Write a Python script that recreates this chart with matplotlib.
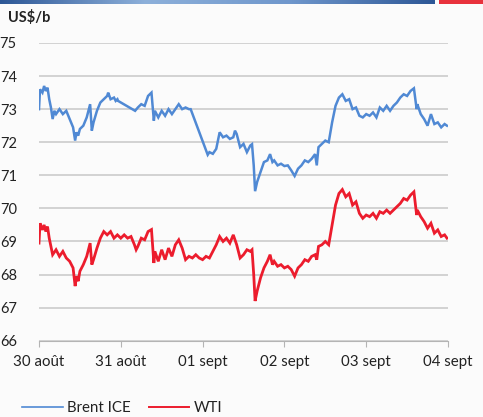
import matplotlib
matplotlib.use("Agg")
import matplotlib.pyplot as plt
import numpy as np
from matplotlib.patches import Rectangle
from matplotlib.lines import Line2D
from matplotlib.colors import LinearSegmentedColormap

# hours since 30 août 00:00
brent_hours = [0, 0.3, 1, 1.5, 2, 2.5, 3, 3.5, 4, 4.5, 5, 6, 7, 8, 9, 10, 10.6, 11, 11.5, 12,
               13, 14, 15, 15.5, 16, 17, 18, 19, 20, 20.3, 21, 22, 22.5, 23, 23.2,
               28.2, 29, 30, 31, 32, 33, 33.7, 34, 35, 36, 37, 38, 39, 40, 41, 42, 43, 44, 44.5,
               49.5, 50, 51, 52, 53, 54, 55, 56, 57, 57.5, 58, 59, 60, 61, 62, 62.5, 63, 63.4,
               64, 65, 66, 67, 67.8, 68.5, 69, 70, 71, 72, 73, 74, 75, 76, 77, 78, 79, 80, 81,
               81.5, 82, 83, 84, 85, 86, 87, 88, 89, 90, 91, 92, 93, 94, 95, 96, 97, 98, 99,
               100, 101, 102, 103, 104, 105, 106, 107, 108, 109, 110, 110.8, 111, 112, 113,
               114, 115, 116, 117, 118, 119, 119.7]
brent = [73.0, 73.6, 73.5, 73.7, 73.55, 73.65, 73.3, 73.05, 72.7, 72.95, 72.85, 73.0, 72.85,
         72.95, 72.7, 72.45, 72.05, 72.3, 72.2, 72.4,
         72.5, 72.75, 73.15, 72.35, 72.6, 72.95, 73.2, 73.3, 73.4, 73.5, 73.3, 73.35, 73.25,
         73.3, 73.25,
         72.95, 73.05, 73.15, 73.1, 73.4, 73.5, 72.65, 72.95, 72.75, 72.95, 72.8, 73.0, 72.85,
         73.0, 73.15, 73.0, 73.05, 73.0, 73.0,
         71.62, 71.7, 71.65, 71.8, 72.3, 72.15, 72.2, 72.1, 72.15, 72.35, 72.25, 71.85, 71.95,
         71.7, 71.9, 71.94, 71.3, 70.52,
         70.8, 71.1, 71.4, 71.45, 71.64, 71.4, 71.45, 71.3, 71.35, 71.28, 71.3, 71.15, 70.98,
         71.2, 71.3, 71.45, 71.4, 71.5, 71.64,
         71.3, 71.85, 71.95, 72.05, 72.0, 72.6, 73.1, 73.35, 73.45, 73.25, 73.3, 73.0, 73.05,
         72.8, 72.75, 72.85, 72.8, 72.9, 72.75,
         73.05, 72.95, 73.1, 72.95, 73.1, 73.2, 73.35, 73.45, 73.4, 73.55, 73.63, 73.0, 73.15,
         72.85, 72.7,
         72.5, 72.85, 72.55, 72.6, 72.45, 72.55, 72.5]

wti_hours = [0, 0.3, 1, 1.5, 2, 2.5, 3, 3.5, 4, 5, 6, 7, 8, 9, 10, 10.6, 11, 11.5, 12, 13, 14,
             15, 15.5, 16, 17, 18, 19, 20, 21, 22, 23, 24, 25, 26, 27, 28, 28.5, 29, 30, 31,
             32, 33, 33.7, 34, 35, 36, 37, 38, 39, 40, 41, 42, 43, 44, 45, 46, 47, 48, 49, 50,
             51, 52, 53, 54, 55, 56, 57, 57.5, 58, 59, 60, 61, 62, 62.5, 63, 63.4, 64, 65, 66,
             67, 67.8, 68.5, 69, 70, 71, 72, 73, 74, 75, 76, 77, 78, 79, 80, 81, 81.5, 82, 83,
             84, 85, 86, 87, 88, 89, 90, 91, 92, 93, 94, 95, 96, 97, 98, 99, 100, 101, 102,
             103, 104, 105, 106, 107, 108, 109, 110, 110.8, 111, 112, 113, 114, 115, 116, 117,
             118, 119, 119.7]
wti = [68.95, 69.55, 69.35, 69.5, 69.3, 69.45, 69.1, 68.85, 68.6, 68.75, 68.55, 68.7, 68.5,
       68.4, 68.2, 67.65, 67.95, 67.8, 68.1, 68.3, 68.55,
       68.95, 68.3, 68.45, 68.8, 69.1, 69.3, 69.2, 69.3, 69.1, 69.2, 69.1, 69.2, 69.1, 69.15,
       68.9, 68.75, 68.85, 69.1, 69.05,
       69.3, 69.36, 68.35, 68.7, 68.4, 68.75, 68.45, 68.8, 68.55, 68.9, 69.05, 68.8, 68.45,
       68.55, 68.5, 68.6, 68.5, 68.45, 68.55, 68.5,
       68.7, 68.9, 69.15, 69.0, 69.1, 68.95, 69.2, 69.05, 68.9, 68.5, 68.6, 68.75, 68.7, 68.75,
       68.0, 67.2, 67.5, 67.9, 68.2,
       68.4, 68.6, 68.3, 68.4, 68.25, 68.3, 68.2, 68.25, 68.15, 67.95, 68.2, 68.3, 68.45, 68.4,
       68.55, 68.6, 68.45, 68.85, 68.9,
       69.0, 68.9, 69.5, 70.1, 70.45, 70.57, 70.35, 70.45, 70.1, 70.2, 69.85, 69.7, 69.8,
       69.75, 69.85, 69.7, 69.9, 69.85, 69.95,
       69.85, 69.95, 70.05, 70.15, 70.3, 70.25, 70.4, 70.5, 69.8, 69.95, 69.75, 69.6, 69.4,
       69.55, 69.25, 69.35,
       69.15, 69.2, 69.1]

day_labels = ["30 août", "31 août", "01 sept", "02 sept", "03 sept", "04 sept"]
y_ticks = [66, 67, 68, 69, 70, 71, 72, 73, 74, 75]

BLUE = "#5089d4"
RED = "#ec1c2d"
BG = "#fbfbfb"

plt.rcParams["font.family"] = ["Lato", "DejaVu Sans"]

fig = plt.figure(figsize=(4.83, 4.17), dpi=100, facecolor=BG)
ax = fig.add_axes([39 / 483, 1 - 340.7 / 417, (448 - 39) / 483, (340.7 - 43) / 417])
ax.set_facecolor(BG)

ax.plot(brent_hours, brent, color=BLUE, lw=1.8, solid_joinstyle="miter")
ax.plot(wti_hours, wti, color=RED, lw=2.0, solid_joinstyle="miter")

ax.set_xlim(0, 120)
ax.set_ylim(66, 75)
ax.set_yticks(y_ticks)
ax.set_xticks([24 * i for i in range(len(day_labels))])
ax.set_xticklabels(day_labels)
ax.grid(axis="y", color="#c8c8c8", lw=1.1)
ax.set_axisbelow(True)
for s in ["top", "right", "left"]:
    ax.spines[s].set_visible(False)
ax.spines["bottom"].set_color("#b4b4b4")
ax.tick_params(axis="y", length=0, pad=16, labelsize=10.5, colors="#222222")
ax.tick_params(axis="x", length=4, color="#b4b4b4", pad=6, labelsize=10.8,
               labelcolor="#222222")

fig.text(8 / 483, 1 - 17 / 417, "US$/b", fontsize=10.5, fontweight="bold",
         va="center", ha="left", color="#222222")

handles = [Line2D([], [], color=BLUE, lw=1.2), Line2D([], [], color=RED, lw=1.4)]
fig.legend(handles, ["Brent ICE", "WTI"], loc="center left",
           bbox_to_anchor=(22 / 483, 1 - 408 / 417), ncol=2,
           frameon=False, fontsize=10.8, handlelength=2.7, handletextpad=0.3,
           columnspacing=1.2, borderpad=0, borderaxespad=0, labelcolor="#222222")

# decorative header band
cmap = LinearSegmentedColormap.from_list("band", ["#2d5796", "#8db0da", "#6f97cc", "#2d5796"])
band = fig.add_axes([0, 1 - 4 / 417, 435 / 483, 4 / 417])
band.imshow(np.linspace(0, 1, 256)[None, :], aspect="auto", cmap=cmap)
band.axis("off")
fig.add_artist(Rectangle((439 / 483, 1 - 4 / 417), 44 / 483, 4 / 417,
                         transform=fig.transFigure, color="#e8323c", lw=0))

fig.savefig("out.png", dpi=100, facecolor=BG)
